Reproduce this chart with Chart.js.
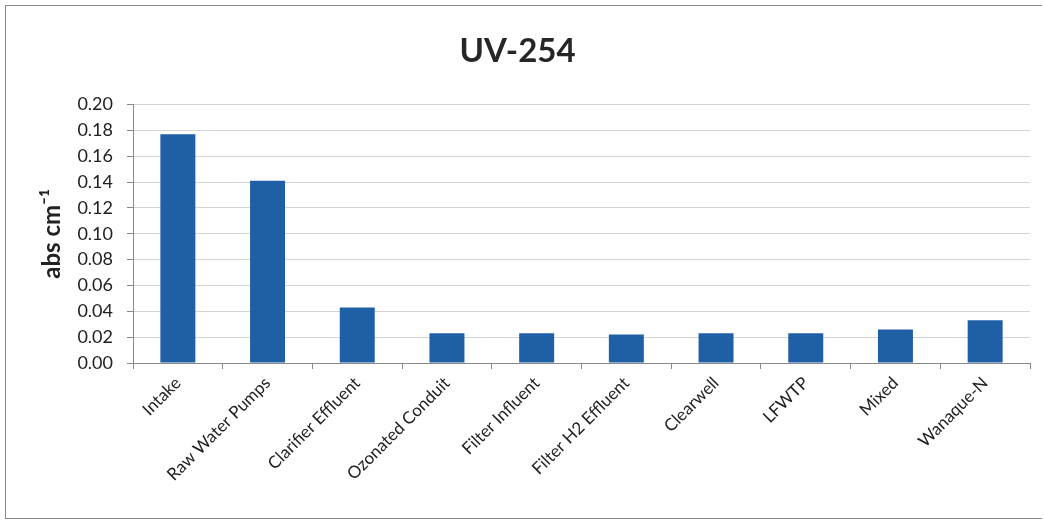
<!DOCTYPE html>
<html>
<head>
<meta charset="utf-8">
<script src="https://cdn.jsdelivr.net/npm/chart.js@4/dist/chart.umd.min.js"></script>
<style>
  html, body { margin: 0; padding: 0; background: #fff; }
  #wrap { position: absolute; left: 5px; top: 5px; width: 1037px; height: 514px; border: 1.5px solid #8a8a8a; border-right: none; box-sizing: border-box; }
  #c { position: absolute; left: 0; top: 0; }
</style>
</head>
<body>
<div id="wrap"></div>
<canvas id="c" width="1044" height="523"></canvas>
<script>
const categories = ["Intake", "Raw Water Pumps", "Clarifier Effluent", "Ozonated Conduit", "Filter Influent", "Filter H2 Effluent", "Clearwell", "LFWTP", "Mixed", "Wanaque-N"];
const uv254 = [0.177, 0.141, 0.043, 0.023, 0.023, 0.022, 0.023, 0.023, 0.026, 0.033];
const yTicks = [0.00, 0.02, 0.04, 0.06, 0.08, 0.10, 0.12, 0.14, 0.16, 0.18, 0.20];
const titleText = "UV-254";
const yTitle = "abs cm\u207B\u00B9";

const fam = "Lato, 'Open Sans', 'DejaVu Sans', sans-serif";
new Chart(document.getElementById('c'), {
  type: 'bar',
  data: {
    labels: categories,
    datasets: [{ data: uv254, backgroundColor: '#1f5fa6', borderWidth: 0, barPercentage: 0.78, categoryPercentage: 0.5 }]
  },
  options: {
    responsive: false,
    animation: false,
    layout: { padding: { left: 5, right: 14, top: 28, bottom: 10 } },
    plugins: {
      legend: { display: false },
      tooltip: { enabled: false },
      title: { display: true, text: titleText, color: '#262626', font: { family: fam, size: 33, weight: 'bold' }, padding: { top: 4, bottom: 33 } }
    },
    scales: {
      y: {
        min: 0, max: 0.2,
        afterBuildTicks: (ax) => { ax.ticks = yTicks.map(v => ({ value: v })); },
        afterFit: (ax) => { ax.width = 128; },
        ticks: { color: '#222', font: { family: fam, size: 18 }, padding: 14, callback: (v) => Number(v).toFixed(2) },
        grid: { color: '#d4d4d4', lineWidth: 1, tickLength: 6, tickColor: '#888', drawTicks: true },
        border: { color: '#888', width: 1 },
        title: { display: true, text: yTitle, color: '#222', font: { family: fam, size: 24, weight: 'bold' }, padding: { top: 33, bottom: 0 } }
      },
      x: {
        offset: true,
        afterFit: (ax) => { ax.height = 150; },
        ticks: { color: '#222', font: { family: fam, size: 17 }, maxRotation: 45, minRotation: 45, padding: 4 },
        grid: { offset: true, drawOnChartArea: false, tickLength: 6, color: '#888' },
        border: { color: '#888', width: 1 }
      }
    }
  }
});
</script>
</body>
</html>
